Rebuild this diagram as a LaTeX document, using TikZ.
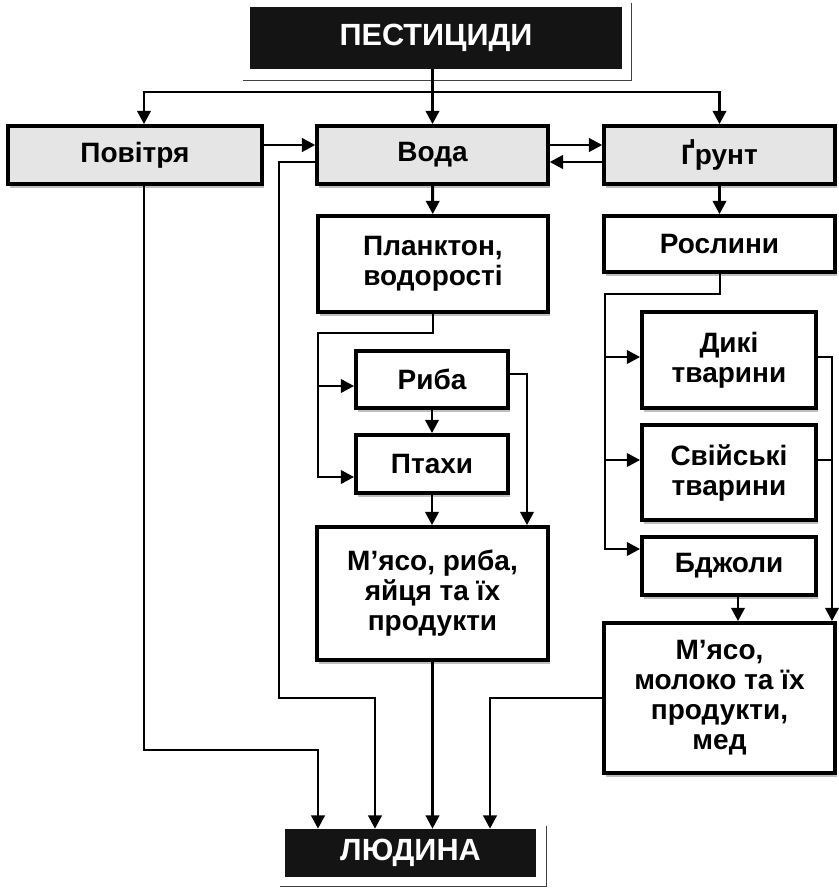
\documentclass[tikz,border=0pt]{standalone}
\usepackage{fontspec}
\setmainfont{Liberation Sans}
\usetikzlibrary{arrows.meta,shadows}

\begin{document}
\begin{tikzpicture}[
      x=0.75pt, y=-0.75pt,
      every node/.style={font=\bfseries\fontsize{21}{22.5}\selectfont},
      box/.style={rectangle, draw=black, line width=2.8pt, fill=white, align=center, inner sep=2pt,
        drop shadow={shadow xshift=1.5pt, shadow yshift=-3pt, fill=black!25, opacity=1}},
      src/.style={box, fill=black!10},
      wide/.style={minimum width=173pt},
      mid/.style={minimum width=130.5pt},
      narrow/.style={minimum width=114pt},
      dark/.style={rectangle, fill=black!92, text=white, font=\bfseries\fontsize{23}{25}\selectfont},
      rim/.style={black!75, line width=1pt},
      wire/.style={line width=2.2pt},
      link/.style={wire, -{Triangle[length=10pt,width=10pt]}}
  ]
    \useasboundingbox (0,0) rectangle (839,890);

    \node[dark, minimum width=279pt, minimum height=46.5pt] (pest) at (436,38) {ПЕСТИЦИДИ};
    \node[src, minimum width=190.5pt, minimum height=43.5pt] (povitria) at (135,155) {Повітря};
    \node[src, wide, minimum height=43.5pt] (voda) at (432.5,155) {Вода};
    \node[src, wide, minimum height=43.5pt] (grunt) at (719.5,155) {Ґрунт};
    \node[box, wide, minimum height=72pt] (plankton) at (433,264) {Планктон,\\водорості};
    \node[box, wide, minimum height=42pt] (roslyny) at (719.5,244) {Рослини};
    \node[box, narrow, minimum height=42.75pt] (ryba) at (432,379.5) {Риба};
    \node[box, narrow, minimum height=43.5pt] (ptakhy) at (432,464) {Птахи};
    \node[box, wide, minimum height=99.75pt] (myaso) at (432.5,593.5) {М’ясо, риба,\\яйця та їх\\продукти};
    \node[box, mid, minimum height=72pt] (dyki) at (729,360) {Дикі\\тварини};
    \node[box, mid, minimum height=71.25pt] (svijski) at (729,472.5) {Свійські\\тварини};
    \node[box, mid, minimum height=43.5pt] (bdzholy) at (729,566) {Бджоли};
    \node[box, wide, minimum height=112.5pt] (moloko) at (719.5,698) {М’ясо,\\молоко та їх\\продукти,\\мед};
    \node[dark, minimum width=188.25pt, minimum height=36pt] (lyudyna) at (410.5,853) {ЛЮДИНА};

    % offset frames of the two dark plates
    \draw[rim] ([xshift=6.75pt,yshift=3pt]pest.north east) -- ([xshift=6.75pt,yshift=-8.25pt]pest.south east) -- ([xshift=-5.25pt,yshift=-8.25pt]pest.south west);
    \draw[rim] ([xshift=7.5pt,yshift=2.25pt]lyudyna.north east) -- ([xshift=7.5pt,yshift=-6.75pt]lyudyna.south east) -- ([xshift=-3.75pt,yshift=-6.75pt]lyudyna.south west);

    \coordinate (split) at (432.5,92);
    \draw[link] (voda.north |- pest.south) -- (voda.north);
    \draw[link] (split) -| (povitria.north -| 144,0);
    \draw[link] (split) -| (grunt.north);

    \draw[link] (povitria.east |- 0,145) -- (voda.west |- 0,145);
    \draw[link] (voda.east |- 0,145) -- (grunt.west |- 0,145);
    \draw[link] (grunt.west |- 0,162) -- (voda.east |- 0,162);
    \draw[link] (voda) -- (plankton);
    \draw[link] (grunt) -- (roslyny);

    \coordinate (pbus) at (318,333);
    \draw[link] (plankton.south) |- (pbus) |- (ptakhy.west |- 0,477);
    \draw[link] (pbus |- 0,386) -- (ryba.west |- 0,386);
    \draw[link] (ryba) -- (ptakhy);
    \draw[link] (ryba.east |- 0,374) -| (myaso.north -| 527,0);
    \draw[link] (ptakhy.south) -- (ptakhy.south |- myaso.north);

    \coordinate (rbus) at (605,294);
    \draw[link] (roslyny.south -| 720,0) |- (rbus) |- (bdzholy.west |- 0,549);
    \foreach \n/\y in {dyki/357,svijski/460} {
      \draw[link] (rbus |- 0,\y) -- (\n.west |- 0,\y);
    }
    \draw[link] (dyki.east |- 0,357) -| (moloko.north -| 832,0);
    \draw[wire] (svijski.east |- 0,460) -- (832,460);
    \draw[link] (bdzholy.south -| 738,0) -- (moloko.north -| 738,0);

    \draw[link] (myaso.south) -- (myaso.south |- lyudyna.north);
    \draw[link] (voda.west |- 0,162) -| (279,698) -| (lyudyna.north -| 375,0);
    \draw[link] (povitria.south -| 144,0) |- (318,750) -- (lyudyna.north -| 318,0);
    \draw[link] (moloko.west |- 0,698) -| (lyudyna.north -| 490,0);
  \end{tikzpicture}
\end{document}
